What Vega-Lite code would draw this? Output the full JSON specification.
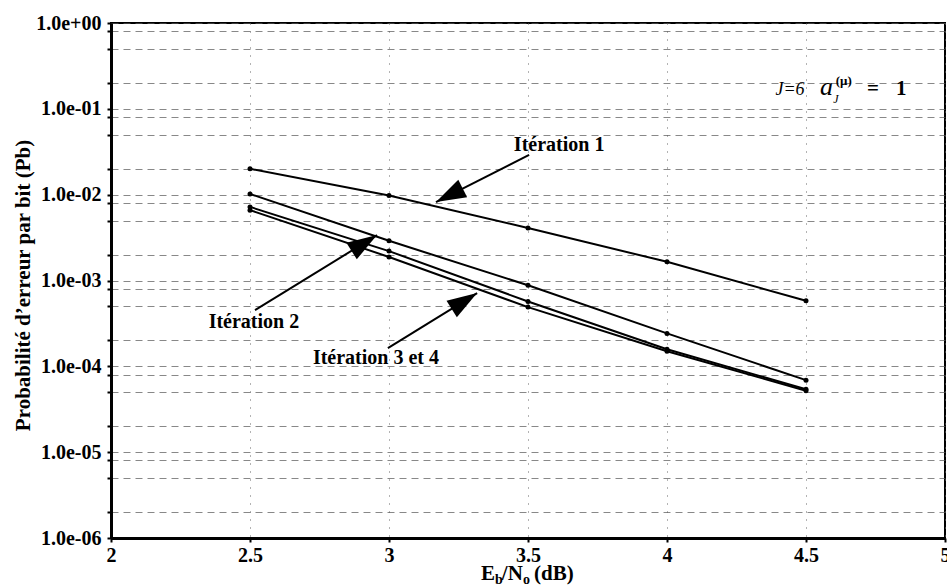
{
  "$schema": "https://vega.github.io/schema/vega-lite/v6.json",
  "width": 834,
  "height": 515,
  "autosize": "none",
  "padding": {"left": 111, "top": 23, "right": 2, "bottom": 50},
  "background": "white",
  "config": {
    "view": {"stroke": "black", "strokeWidth": 2},
    "font": "Liberation Serif"
  },
  "datasets": {
    "curves": [
      {"it": "1", "x": 2.5, "y": 0.02},
      {"it": "1", "x": 3, "y": 0.0098},
      {"it": "1", "x": 3.5, "y": 0.0041},
      {"it": "1", "x": 4, "y": 0.00165},
      {"it": "1", "x": 4.5, "y": 0.00058},
      {"it": "2", "x": 2.5, "y": 0.0102},
      {"it": "2", "x": 3, "y": 0.0029},
      {"it": "2", "x": 3.5, "y": 0.00088},
      {"it": "2", "x": 4, "y": 0.000242},
      {"it": "2", "x": 4.5, "y": 0.000069},
      {"it": "3", "x": 2.5, "y": 0.0072},
      {"it": "3", "x": 3, "y": 0.0022},
      {"it": "3", "x": 3.5, "y": 0.00057},
      {"it": "3", "x": 4, "y": 0.000158},
      {"it": "3", "x": 4.5, "y": 0.000054},
      {"it": "4", "x": 2.5, "y": 0.0066},
      {"it": "4", "x": 3, "y": 0.00188},
      {"it": "4", "x": 3.5, "y": 0.00049},
      {"it": "4", "x": 4, "y": 0.00015},
      {"it": "4", "x": 4.5, "y": 0.000052}
    ],
    "arrows": [
      {"id": "1", "x": 3.504, "y": 0.029, "x2": 3.169, "y2": 0.0082},
      {"id": "2", "x": 2.518, "y": 0.000452, "x2": 2.957, "y2": 0.00338},
      {"id": "3", "x": 2.996, "y": 0.000163, "x2": 3.317, "y2": 0.000713}
    ],
    "notes": [
      {"g": "label", "text": "Itération 1", "x": 3.612, "y": 0.0379},
      {"g": "label", "text": "Itération 2", "x": 2.514, "y": 0.000327},
      {"g": "label", "text": "Itération 3 et 4", "x": 2.953, "y": 0.000125},
      {"g": "j", "text": "J=6", "x": 4.39, "y": 0.1448},
      {"g": "a", "text": "a", "x": 4.55, "y": 0.1448},
      {"g": "sub", "text": "J", "x": 4.598, "y": 0.117},
      {"g": "sup", "text": "(μ)", "x": 4.607, "y": 0.189},
      {"g": "eq", "text": "=", "x": 4.719, "y": 0.1448},
      {"g": "eq", "text": "1", "x": 4.824, "y": 0.1448},
      {"g": "xt", "text": "E", "x": 3.331, "y": 3.2e-7},
      {"g": "xs", "text": "b", "x": 3.381, "y": 2.9e-7},
      {"g": "xt", "text": "/N", "x": 3.406, "y": 3.2e-7},
      {"g": "xs", "text": "o", "x": 3.482, "y": 2.9e-7},
      {"g": "xt", "text": "(dB)", "x": 3.522, "y": 3.2e-7}
    ]
  },
  "layer": [
    {
      "data": {"name": "curves"},
      "mark": {"type": "line", "color": "black", "strokeWidth": 2},
      "encoding": {
        "x": {
          "field": "x", "type": "quantitative",
          "scale": {"domain": [2, 5], "nice": false, "zero": false},
          "axis": {
            "values": [2, 2.5, 3, 3.5, 4, 4.5, 5],
            "labelExpr": "datum.value + ''",
            "title": null,
            "labelFont": "Liberation Serif", "labelFontWeight": "bold", "labelFontSize": 20, "labelColor": "black",
            "labelPadding": 3, "labelFlush": false,
            "domainColor": "black", "domainWidth": 3,
            "tickColor": "black", "tickSize": 4, "tickWidth": 2,
            "grid": true, "gridColor": "#666", "gridDash": [1, 7], "gridWidth": 1
          }
        },
        "y": {
          "field": "y", "type": "quantitative",
          "scale": {"type": "log", "domain": [0.000001, 1], "nice": false},
          "axis": {
            "values": [1, 0.8, 0.5, 0.2, 0.1, 0.08, 0.05, 0.02, 0.01, 0.008, 0.005, 0.002, 0.001, 0.0008, 0.0005, 0.0002, 0.0001, 0.00008, 0.00005, 0.00002, 0.00001, 0.000008, 0.000005, 0.000002, 0.000001],
            "labelExpr": "abs(log(datum.value)/LN10 - round(log(datum.value)/LN10)) < 0.01 ? (datum.value > 0.5 ? '1.0e+00' : '1.0e-0' + round(-log(datum.value)/LN10)) : ''",
            "title": "Probabilité d’erreur par bit (Pb)",
            "titleFont": "Liberation Serif", "titleFontWeight": "bold", "titleFontSize": 21, "titleColor": "black",
            "titleX": -88, "titleY": 262, "titleAngle": -90, "titleAlign": "center", "titleBaseline": "middle",
            "labelFont": "Liberation Serif", "labelFontWeight": "bold", "labelFontSize": 20, "labelColor": "black",
            "labelPadding": 6, "labelFlush": false, "labelOverlap": false,
            "domainColor": "black", "domainWidth": 3,
            "tickColor": "black", "tickSize": 4, "tickWidth": 2,
            "grid": true, "gridColor": "#555", "gridDash": [7, 5], "gridWidth": 1, "gridOpacity": 0.7
          }
        },
        "detail": {"field": "it", "type": "nominal"}
      }
    },
    {
      "data": {"name": "curves"},
      "mark": {"type": "point", "filled": true, "color": "black", "size": 25, "opacity": 1},
      "encoding": {
        "x": {"field": "x", "type": "quantitative", "scale": {"domain": [2, 5], "nice": false, "zero": false}},
        "y": {"field": "y", "type": "quantitative", "scale": {"type": "log", "domain": [0.000001, 1], "nice": false}}
      }
    },
    {
      "data": {"name": "arrows"},
      "mark": {"type": "rule", "color": "black", "strokeWidth": 2},
      "encoding": {
        "x": {"field": "x", "type": "quantitative", "scale": {"domain": [2, 5], "nice": false, "zero": false}},
        "y": {"field": "y", "type": "quantitative", "scale": {"type": "log", "domain": [0.000001, 1], "nice": false}},
        "x2": {"field": "x2"},
        "y2": {"field": "y2"}
      }
    },
    {
      "data": {"name": "arrows"},
      "transform": [{"filter": "datum.id == '1'"}],
      "mark": {"type": "point", "shape": "M0,0L0.65,2L-0.65,2Z", "filled": true, "color": "black", "opacity": 1, "size": 900, "angle": 243},
      "encoding": {
        "x": {"field": "x2", "type": "quantitative", "scale": {"domain": [2, 5], "nice": false, "zero": false}},
        "y": {"field": "y2", "type": "quantitative", "scale": {"type": "log", "domain": [0.000001, 1], "nice": false}}
      }
    },
    {
      "data": {"name": "arrows"},
      "transform": [{"filter": "datum.id != '1'"}],
      "mark": {"type": "point", "shape": "M0,0L0.65,2L-0.65,2Z", "filled": true, "color": "black", "opacity": 1, "size": 900, "angle": 58},
      "encoding": {
        "x": {"field": "x2", "type": "quantitative", "scale": {"domain": [2, 5], "nice": false, "zero": false}},
        "y": {"field": "y2", "type": "quantitative", "scale": {"type": "log", "domain": [0.000001, 1], "nice": false}}
      }
    },
    {
      "data": {"name": "notes"},
      "transform": [{"filter": "datum.g == 'label'"}],
      "mark": {"type": "text", "font": "Liberation Serif", "fontWeight": "bold", "fontSize": 20, "color": "black", "align": "center", "baseline": "middle"},
      "encoding": {
        "x": {"field": "x", "type": "quantitative", "scale": {"domain": [2, 5], "nice": false, "zero": false}},
        "y": {"field": "y", "type": "quantitative", "scale": {"type": "log", "domain": [0.000001, 1], "nice": false}},
        "text": {"field": "text"}
      }
    },
    {
      "data": {"name": "notes"},
      "transform": [{"filter": "datum.g == 'j'"}],
      "mark": {"type": "text", "font": "Liberation Serif", "fontStyle": "italic", "fontSize": 18, "color": "black", "align": "left", "baseline": "alphabetic"},
      "encoding": {
        "x": {"field": "x", "type": "quantitative", "scale": {"domain": [2, 5], "nice": false, "zero": false}},
        "y": {"field": "y", "type": "quantitative", "scale": {"type": "log", "domain": [0.000001, 1], "nice": false}},
        "text": {"field": "text"}
      }
    },
    {
      "data": {"name": "notes"},
      "transform": [{"filter": "datum.g == 'a'"}],
      "mark": {"type": "text", "font": "Liberation Serif", "fontStyle": "italic", "fontSize": 26, "color": "black", "align": "left", "baseline": "alphabetic"},
      "encoding": {
        "x": {"field": "x", "type": "quantitative", "scale": {"domain": [2, 5], "nice": false, "zero": false}},
        "y": {"field": "y", "type": "quantitative", "scale": {"type": "log", "domain": [0.000001, 1], "nice": false}},
        "text": {"field": "text"}
      }
    },
    {
      "data": {"name": "notes"},
      "transform": [{"filter": "datum.g == 'sub'"}],
      "mark": {"type": "text", "font": "Liberation Serif", "fontStyle": "italic", "fontSize": 12, "color": "black", "align": "left", "baseline": "alphabetic"},
      "encoding": {
        "x": {"field": "x", "type": "quantitative", "scale": {"domain": [2, 5], "nice": false, "zero": false}},
        "y": {"field": "y", "type": "quantitative", "scale": {"type": "log", "domain": [0.000001, 1], "nice": false}},
        "text": {"field": "text"}
      }
    },
    {
      "data": {"name": "notes"},
      "transform": [{"filter": "datum.g == 'sup'"}],
      "mark": {"type": "text", "font": "Liberation Serif", "fontWeight": "bold", "fontSize": 13, "color": "black", "align": "left", "baseline": "alphabetic"},
      "encoding": {
        "x": {"field": "x", "type": "quantitative", "scale": {"domain": [2, 5], "nice": false, "zero": false}},
        "y": {"field": "y", "type": "quantitative", "scale": {"type": "log", "domain": [0.000001, 1], "nice": false}},
        "text": {"field": "text"}
      }
    },
    {
      "data": {"name": "notes"},
      "transform": [{"filter": "datum.g == 'eq'"}],
      "mark": {"type": "text", "font": "Liberation Serif", "fontWeight": "bold", "fontSize": 21, "color": "black", "align": "left", "baseline": "alphabetic"},
      "encoding": {
        "x": {"field": "x", "type": "quantitative", "scale": {"domain": [2, 5], "nice": false, "zero": false}},
        "y": {"field": "y", "type": "quantitative", "scale": {"type": "log", "domain": [0.000001, 1], "nice": false}},
        "text": {"field": "text"}
      }
    },
    {
      "data": {"name": "notes"},
      "transform": [{"filter": "datum.g == 'xt'"}],
      "mark": {"type": "text", "font": "Liberation Serif", "fontWeight": "bold", "fontSize": 21, "color": "black", "align": "left", "baseline": "alphabetic"},
      "encoding": {
        "x": {"field": "x", "type": "quantitative", "scale": {"domain": [2, 5], "nice": false, "zero": false}},
        "y": {"field": "y", "type": "quantitative", "scale": {"type": "log", "domain": [0.000001, 1], "nice": false}},
        "text": {"field": "text"}
      }
    },
    {
      "data": {"name": "notes"},
      "transform": [{"filter": "datum.g == 'xs'"}],
      "mark": {"type": "text", "font": "Liberation Serif", "fontWeight": "bold", "fontSize": 14, "color": "black", "align": "left", "baseline": "alphabetic"},
      "encoding": {
        "x": {"field": "x", "type": "quantitative", "scale": {"domain": [2, 5], "nice": false, "zero": false}},
        "y": {"field": "y", "type": "quantitative", "scale": {"type": "log", "domain": [0.000001, 1], "nice": false}},
        "text": {"field": "text"}
      }
    }
  ]
}
